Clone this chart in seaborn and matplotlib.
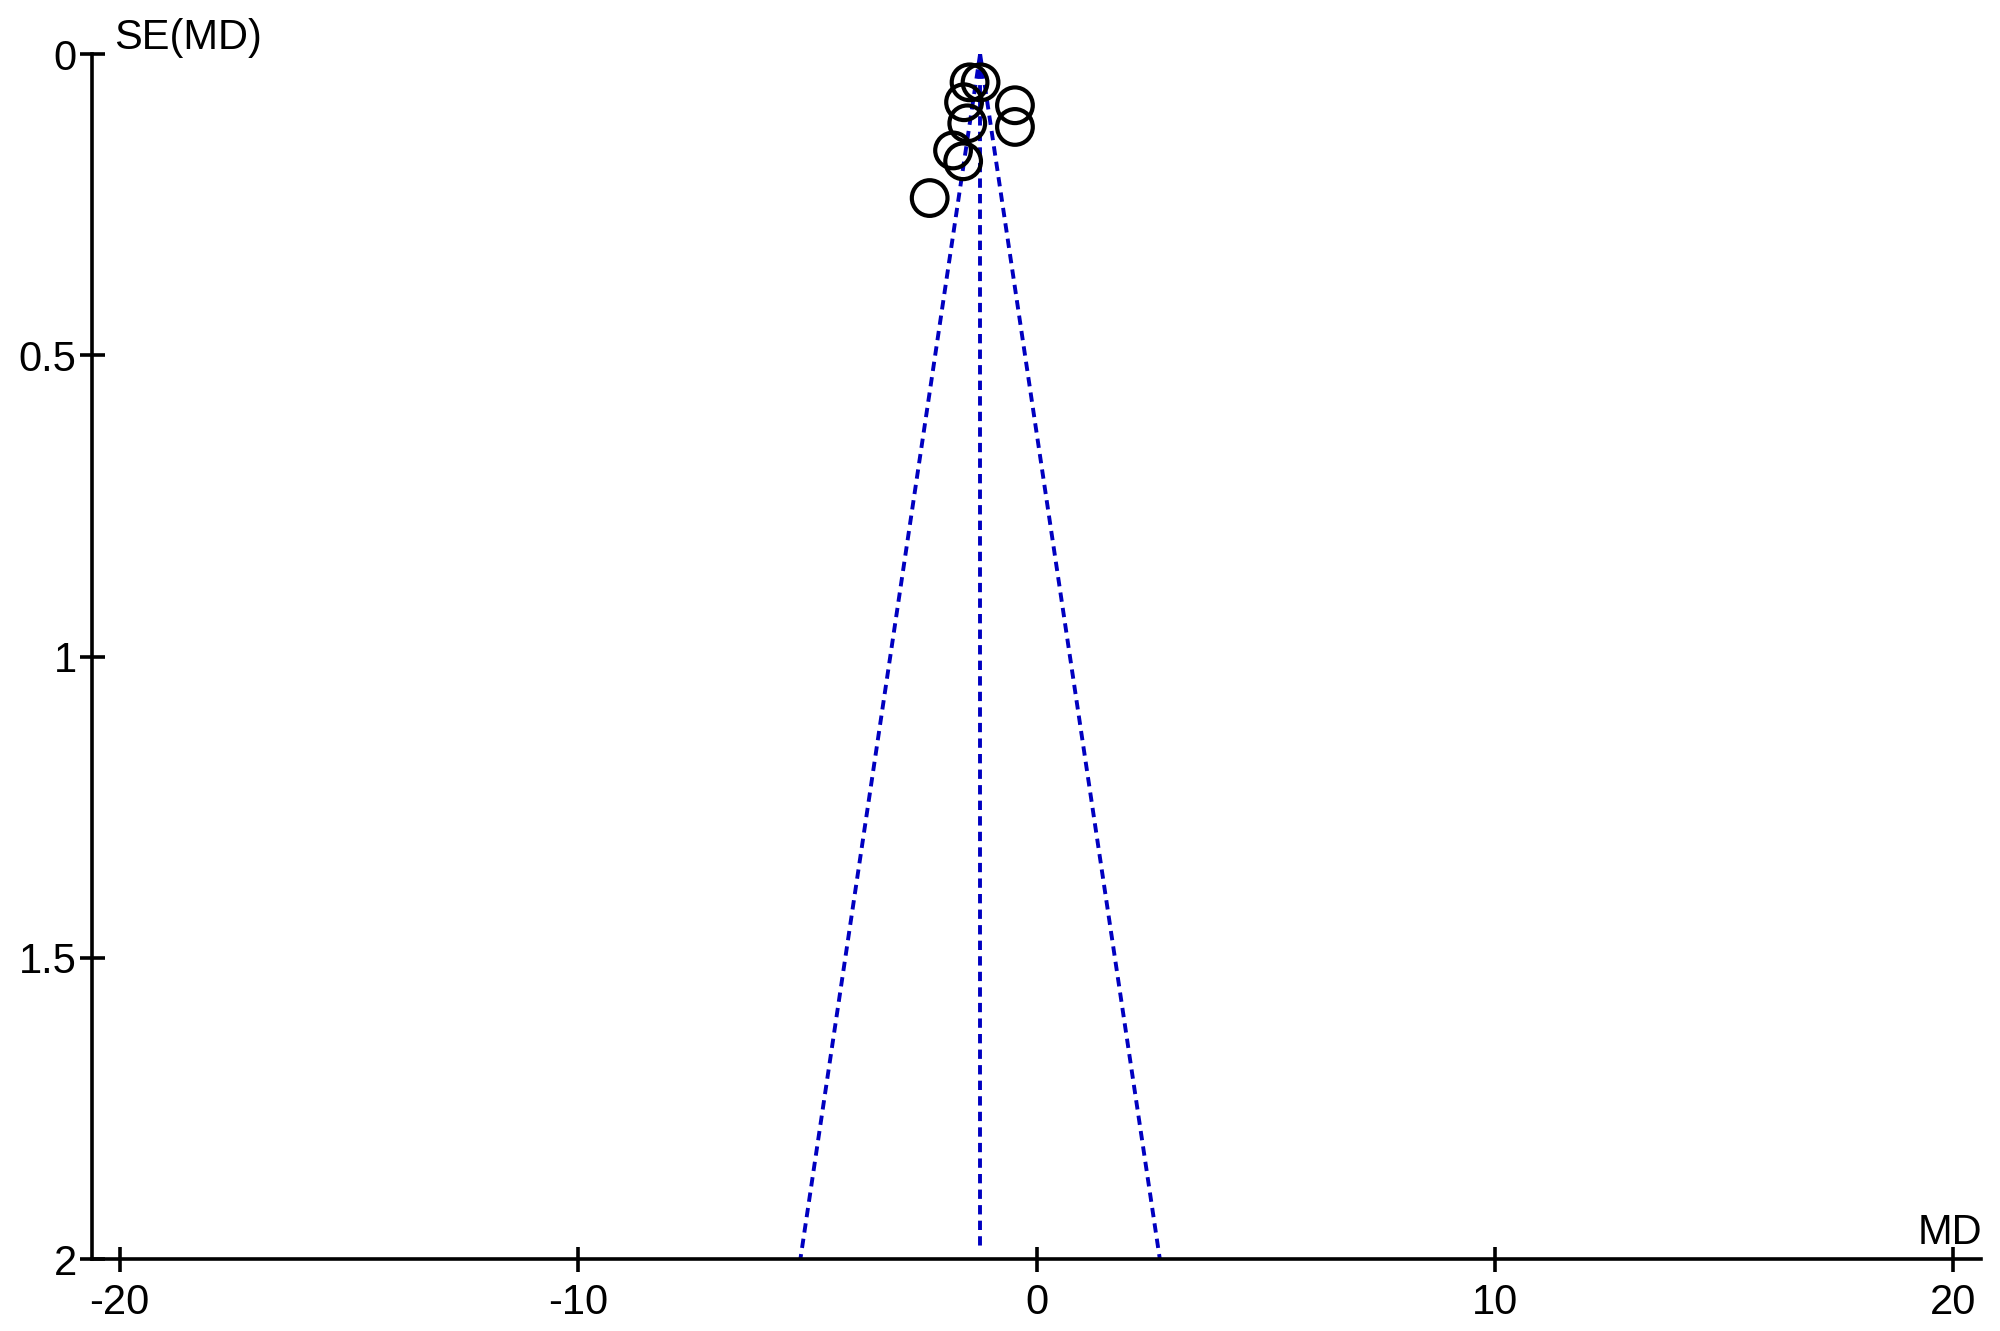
import matplotlib
matplotlib.use("Agg")
import matplotlib.pyplot as plt
import seaborn as sns
import pandas as pd

# === Data funnel plot ===
md = [-1.46, -1.22, -1.58, -0.47, -1.51, -0.47, -1.82, -1.60, -2.33]
se = [0.047, 0.047, 0.080, 0.085, 0.115, 0.121, 0.160, 0.178, 0.239]
pooled_md = -1.23
se_max = 2.0
x_ticks = [-20, -10, 0, 10, 20]
y_ticks = [0, 0.5, 1, 1.5, 2]
y_tick_labels = ["0", "0.5", "1", "1.5", "2"]

df = pd.DataFrame({"MD": md, "SE": se})

sns.set_theme(style="ticks")
plt.rcParams["font.family"] = ["Liberation Sans", "DejaVu Sans"]
plt.rcParams["axes.unicode_minus"] = False
plt.rcParams["text.color"] = "black"

fig = plt.figure(figsize=(10, 6.655), dpi=200)
ax = fig.add_axes([0.046, 0.054, 0.9445, 0.9054])

# garis funnel (95% CI) dan garis pooled
line_col = "#0000c0"
dash = (0, (2.4, 1.6))
lw_line = 1.4
ax.plot([pooled_md, pooled_md - 1.96 * se_max], [0, se_max],
        color=line_col, lw=lw_line, linestyle=dash)
ax.plot([pooled_md, pooled_md + 1.96 * se_max], [0, se_max],
        color=line_col, lw=lw_line, linestyle=dash)
ax.plot([pooled_md, pooled_md], [0, se_max - 0.02],
        color=line_col, lw=lw_line, linestyle=dash)

# titik studi
sns.scatterplot(data=df, x="MD", y="SE", ax=ax, marker="o", s=165,
                facecolors="none", edgecolor="black", linewidth=1.5,
                zorder=3)

ax.set_xlim(-20.6, 20.6)
ax.set_ylim(se_max, 0)
ax.set_xticks(x_ticks)
ax.set_yticks(y_ticks)
ax.set_yticklabels(y_tick_labels)
ax.set_xlabel("")
ax.set_ylabel("")

for side in ["top", "right"]:
    ax.spines[side].set_visible(False)
for side in ["left", "bottom"]:
    ax.spines[side].set_linewidth(1.3)
    ax.spines[side].set_color("black")

ax.tick_params(axis="both", direction="inout", length=9, width=1.3,
               color="black", labelsize=15, labelcolor="black")
ax.tick_params(axis="y", pad=1)
ax.tick_params(axis="x", pad=4)

fig.text(0.057, 0.9715, "SE(MD)", ha="left", va="center", fontsize=15)
fig.text(0.991, 0.0736, "MD", ha="right", va="center", fontsize=15)

plt.savefig("out.png", dpi=200)
